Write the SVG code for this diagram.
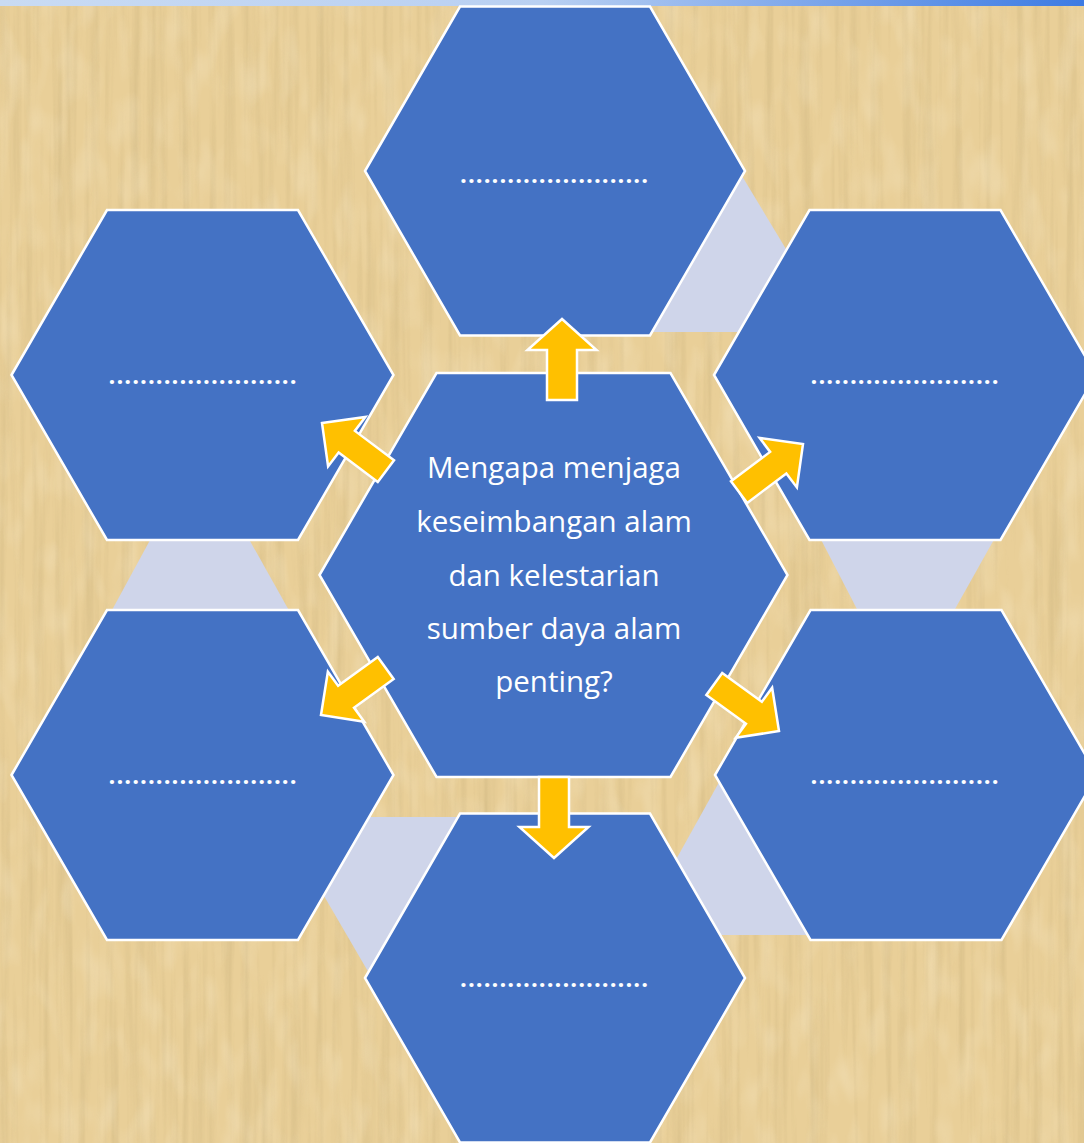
<svg xmlns="http://www.w3.org/2000/svg" width="1084" height="1143" viewBox="0 0 1084 1143">
  <defs>
    <linearGradient id="sky" x1="0" y1="0" x2="1" y2="0">
      <stop offset="0" stop-color="#C9DBF3"/>
      <stop offset="0.5" stop-color="#B9D0F2"/>
      <stop offset="1" stop-color="#3D7BE3"/>
    </linearGradient>
    <filter id="paper" x="0" y="0" width="100%" height="100%">
      <feTurbulence type="fractalNoise" baseFrequency="0.12 0.004" numOctaves="3" seed="7" result="n"/>
      <feColorMatrix in="n" type="matrix" values="0 0 0 0 0.62  0 0 0 0 0.47  0 0 0 0 0.22  1.6 0 0 0 -0.7"/>
    </filter>
    <filter id="paper2" x="0" y="0" width="100%" height="100%">
      <feTurbulence type="fractalNoise" baseFrequency="0.05 0.02" numOctaves="2" seed="3" result="n"/>
      <feColorMatrix in="n" type="matrix" values="0 0 0 0 1  0 0 0 0 0.95  0 0 0 0 0.8  1.4 0 0 0 -0.62"/>
    </filter>
    <path id="arrowUp" d="M0,0 L34.5,31 L15,31 L15,81 L-15,81 L-15,31 L-34.5,31 Z"/>
    <path id="arrowDiag" d="M0,0 L31,31 L13.5,31 L13.5,80 L-13.5,80 L-13.5,31 L-31,31 Z"/>
  </defs>
  <style>
    .hex { fill: #4472C4; stroke: #FFFFFF; stroke-width: 2.5; stroke-linejoin: miter; }
    .band { fill: #CFD5EA; }
    .arrow { fill: #FFC000; stroke: #FFFFFF; stroke-width: 2.5; stroke-linejoin: miter; }
    .dots { font-family: "Open Sans", "Liberation Sans", sans-serif; font-size: 24px; font-weight: bold; fill: #FFFFFF; text-anchor: middle; }
    .q { font-family: "Open Sans", "Liberation Sans", sans-serif; font-size: 29.5px; fill: #FFFFFF; text-anchor: middle; }
  </style>

  <!-- background -->
  <rect x="0" y="0" width="1084" height="1143" fill="#E9CF98"/>
  <rect x="0" y="0" width="1084" height="1143" filter="url(#paper)" opacity="0.7"/>
  <rect x="0" y="0" width="1084" height="1143" filter="url(#paper2)" opacity="0.35"/>
  <rect x="0" y="0" width="1084" height="6" fill="url(#sky)"/>

  <!-- background bands between outer hexagons -->
  <g id="bands">
    <polygon class="band" points="739,171 640,332 836,332"/>
    <polygon class="band" points="785,470 1033,470 904,700"/>
    <polygon class="band" points="722,777 634,935 810,935"/>
    <polygon class="band" points="278,817 468,817 373,980"/>
    <polygon class="band" points="199,450 74,680 328,680"/>
  </g>

  <g id="node-top">
    <polygon class="hex" points="365,171 460,6.5 650,6.5 745,171 650,335.5 460,335.5"/>
    <text class="dots" x="554" y="183" textLength="188" lengthAdjust="spacing">........................</text>
  </g>
  <g id="node-top-left">
    <polygon class="hex" points="11.5,375 107,210 298,210 393.5,375 298,540 107,540"/>
    <text class="dots" x="202.5" y="384" textLength="188" lengthAdjust="spacing">........................</text>
  </g>
  <g id="node-top-right">
    <polygon class="hex" points="714,375 809.5,210 1000.5,210 1096,375 1000.5,540 809.5,540"/>
    <text class="dots" x="904.5" y="384" textLength="188" lengthAdjust="spacing">........................</text>
  </g>
  <g id="node-bottom-left">
    <polygon class="hex" points="11.5,775 107,610 298,610 393.5,775 298,940 107,940"/>
    <text class="dots" x="202.5" y="784" textLength="188" lengthAdjust="spacing">........................</text>
  </g>
  <g id="node-bottom-right">
    <polygon class="hex" points="715,775 810.5,610 1001.5,610 1097,775 1001.5,940 810.5,940"/>
    <text class="dots" x="904.5" y="784" textLength="188" lengthAdjust="spacing">........................</text>
  </g>
  <g id="node-bottom">
    <polygon class="hex" points="365,978 460,813.5 650,813.5 745,978 650,1142.5 460,1142.5"/>
    <text class="dots" x="554" y="987" textLength="188" lengthAdjust="spacing">........................</text>
  </g>
  <g id="node-center">
    <polygon class="hex" points="319.5,575 436.5,373 670.5,373 787.5,575 670.5,777 436.5,777"/>
    <text class="q" x="554" y="478">Mengapa menjaga</text>
    <text class="q" x="554" y="532">keseimbangan alam</text>
    <text class="q" x="554" y="586">dan kelestarian</text>
    <text class="q" x="554" y="639">sumber daya alam</text>
    <text class="q" x="554" y="692">penting?</text>
  </g>

  <g id="connectors">
    <use href="#arrowUp" class="arrow" transform="translate(562,319)"/>
    <use href="#arrowUp" class="arrow" transform="translate(554,858) rotate(180)"/>
    <use href="#arrowDiag" class="arrow" transform="translate(322,423) rotate(-53)"/>
    <use href="#arrowDiag" class="arrow" transform="translate(803,444) rotate(53)"/>
    <use href="#arrowDiag" class="arrow" transform="translate(779,731) rotate(126)"/>
    <use href="#arrowDiag" class="arrow" transform="translate(321,715) rotate(-126)"/>
  </g>
</svg>
